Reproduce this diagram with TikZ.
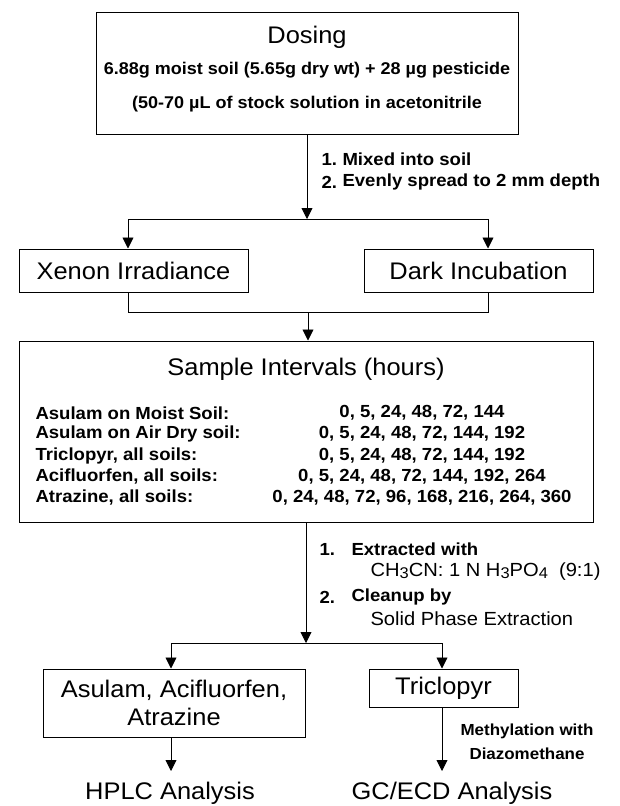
\documentclass[tikz,border=0pt]{standalone}
\usepackage{fontspec}
\setmainfont[FakeStretch=1.06]{Liberation Sans}
\usetikzlibrary{arrows.meta}
\newcommand{\lowdig}[1]{\raisebox{-2pt}{\fontsize{15.5}{15.5}\selectfont #1}}
\begin{document}
\begin{tikzpicture}[x=1pt,y=-1pt,
  box/.style={draw,line width=1pt},
  conn/.style={line width=0.9pt},
  arr/.style={conn,-{Triangle[width=11pt,length=11pt]}},
  big/.style={font=\fontsize{24}{28}\selectfont},
  mid/.style={font=\bfseries\fontsize{17}{20}\selectfont},
  row/.style={font=\bfseries\fontsize{17.5}{20}\selectfont},
  lab/.style={font=\bfseries\fontsize{17.5}{20}\selectfont,anchor=west},
  labr/.style={font=\fontsize{19}{22}\selectfont,anchor=west},
  small/.style={font=\bfseries\fontsize{16}{24}\selectfont,align=center}]
\useasboundingbox (0,0) rectangle (619,806);
% Dosing
\draw[box] (96,12) rectangle (518,134);
\node[big] (dos) at (307,37) {Dosing};
\node[mid] (d2) at (307,70) {6.88g moist soil (5.65g dry wt) + 28 µg pesticide};
\node[mid] (d3) at (307,104) {(50-70 µL of stock solution in acetonitrile};
\coordinate (dosb) at (307,134);
\coordinate (j1) at (307,219);
\draw[arr] (dosb) -- (j1);
\node[lab] (m1n) at (318,159) {1.};
\node[lab] (m1) at (339,159) {Mixed into soil};
\node[lab] (m2n) at (318,182) {2.};
\node[lab] (m2) at (339,182) {Evenly spread to 2 mm depth};
% split
\node[box,big,minimum width=229pt,minimum height=43pt,inner sep=0pt] (xen) at (133.5,270.5) {Xenon Irradiance};
\node[box,big,minimum width=229pt,minimum height=43pt,inner sep=0pt] (dark) at (478.5,270.5) {Dark Incubation};
\coordinate (jl) at (128,219);
\coordinate (jr) at (488,219);
\draw[conn] (jl) -- (jr);
\draw[arr] (jl) -- (xen.north -| jl);
\draw[arr] (jr) -- (dark.north -| jr);
% merge
\coordinate (ml) at (128,312);
\coordinate (mr) at (488,312);
\coordinate (mc) at (308,312);
\draw[conn] (xen.south -| ml) -- (ml) -- (mr) -- (dark.south -| mr);
% sample intervals
\node[box,minimum width=574pt,minimum height=181pt,inner sep=0pt] (si) at (306,431.5) {};
\draw[arr] (mc) -- (si.north -| mc);
\node[big] (sit) at (306,369) {Sample Intervals (hours)};
\foreach \y/\a/\b in {
  413/Asulam on Moist Soil:/{0, 5, 24, 48, 72, 144},
  434/Asulam on Air Dry soil:/{0, 5, 24, 48, 72, 144, 192},
  456/{Triclopyr, all soils:}/{0, 5, 24, 48, 72, 144, 192},
  477/{Acifluorfen, all soils:}/{0, 5, 24, 48, 72, 144, 192, 264},
  498/{Atrazine, all soils:}/{0, 24, 48, 72, 96, 168, 216, 264, 360}}{
  \node[row,anchor=west] at (32,\y) {\a};
  \node[row] at (422,\y) {\b};
}
\coordinate (sib) at (306,522);
\coordinate (j2) at (306,643);
\draw[arr] (sib) -- (j2);
\node[lab] (e1n) at (316,549) {1.};
\node[lab] (e1) at (348,549) {Extracted with};
\node[labr] (e1b) at (367,572) {CH\lowdig{3}CN: 1 N H\lowdig{3}PO\lowdig{4}\ \ (9:1)};
\node[lab] (e2n) at (316,597) {2.};
\node[lab] (e2) at (348,597) {Cleanup by};
\node[labr] (e2b) at (367,619) {Solid Phase Extraction};
% final
\coordinate (kl) at (171,643);
\coordinate (kr) at (442,643);
\draw[conn] (kl) -- (kr);
\node[box,big,minimum width=262pt,minimum height=68pt,align=center,inner sep=0pt] (asu) at (174,703) {Asulam, Acifluorfen,\\Atrazine};
\node[box,big,minimum width=149pt,minimum height=38pt,inner sep=0pt] (tri) at (443.5,688) {Triclopyr};
\draw[arr] (kl) -- (asu.north -| kl);
\draw[arr] (kr) -- (tri.north -| kr);
\node[big] (hplc) at (170,793) {HPLC Analysis};
\node[big] (gc) at (452,793) {GC/ECD Analysis};
\draw[arr] (asu.south -| kl) -- (171,771);
\draw[arr] (tri.south -| kr) -- (442,771);
\node[small] (meth) at (527,742) {Methylation with\\Diazomethane};
\end{tikzpicture}
\end{document}
